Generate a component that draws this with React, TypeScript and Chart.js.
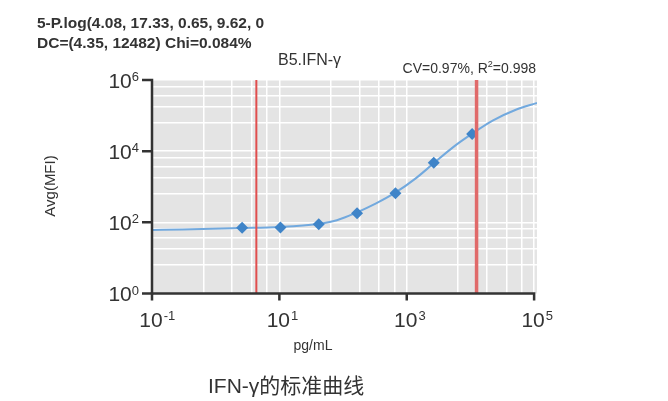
import React, { useEffect, useRef } from "react";
import { Chart, registerables } from "chart.js";
Chart.register(...registerables);

// ---- data ----
const standardConc = [2.6, 10.4, 41.5, 166, 664, 2656, 10625];
const standardMFI = [71, 72, 88, 180, 655, 4745, 30400];
const curveConc = [0.1, 0.3, 2.4, 10, 40, 80, 160, 330, 660, 1400, 2700, 5300, 10800, 22700, 52800, 111000];
const curveMFI = [61, 63, 69, 74, 90, 115, 185, 340, 680, 1750, 4700, 12800, 31500, 73000, 148000, 226000];
const dcLimits = [4.35, 12482];

const xMajorTicks = [0.1, 10, 1000, 100000];
const xTickExp = ["-1", "1", "3", "5"];
const yMajorTicks = [1, 100, 10000, 1000000];
const yTickExp = ["0", "2", "4", "6"];
const gridSteps = [6.4, 18, 37, 64, 100];
const xGridBases = [0.1, 10, 1000];
const yGridBases = [1, 100, 10000];

const header1 = "5-P.log(4.08, 17.33, 0.65, 9.62, 0";
const header2 = "DC=(4.35, 12482) Chi=0.084%";
const plotTitle = "B5.IFN-γ";
const fitTextA = "CV=0.97%, R";
const fitTextSup = "2";
const fitTextB = "=0.998";
const yTitle = "Avg(MFI)";
const xTitle = "pg/mL";
const caption = "IFN-γ的标准曲线";

const FONT = '"Liberation Sans", Arial, sans-serif';
const TEXT = "#333333";

const xGrid = xGridBases.flatMap((b) => gridSteps.map((s) => b * s));
const yGrid = yGridBases.flatMap((b) => gridSteps.map((s) => b * s));

const decor = {
  id: "decor",
  beforeDraw(chart: any) {
    const { ctx, chartArea: a } = chart;
    ctx.save();
    ctx.fillStyle = "#e4e4e4";
    ctx.fillRect(a.left, a.top - 1, a.right - a.left, a.bottom - a.top + 1);
    ctx.restore();
  },
  afterDraw(chart: any) {
    const { ctx } = chart;
    const xs = chart.scales.x;
    const ys = chart.scales.y;
    const x0 = xs.getPixelForValue(xMajorTicks[0]);
    const x1 = xs.getPixelForValue(xMajorTicks[xMajorTicks.length - 1]);
    const y0 = ys.getPixelForValue(yMajorTicks[0]);
    const y1 = ys.getPixelForValue(yMajorTicks[yMajorTicks.length - 1]);
    ctx.save();
    ctx.strokeStyle = "#333333";
    ctx.lineWidth = 2.5;
    ctx.lineJoin = "miter";
    // y axis
    ctx.beginPath();
    ctx.moveTo(x0 - 10, y0);
    ctx.lineTo(x0, y0);
    ctx.lineTo(x0, y1);
    ctx.lineTo(x0 - 10, y1);
    ctx.stroke();
    // x axis
    ctx.beginPath();
    ctx.moveTo(x0, y0 + 7);
    ctx.lineTo(x0, y0);
    ctx.lineTo(x1, y0);
    ctx.lineTo(x1, y0 + 7);
    ctx.stroke();
    // inner ticks
    ctx.beginPath();
    yMajorTicks.slice(1, -1).forEach((v) => {
      const y = ys.getPixelForValue(v);
      ctx.moveTo(x0 - 10, y);
      ctx.lineTo(x0, y);
    });
    xMajorTicks.slice(1, -1).forEach((v) => {
      const x = xs.getPixelForValue(v);
      ctx.moveTo(x, y0);
      ctx.lineTo(x, y0 + 7);
    });
    ctx.stroke();

    ctx.fillStyle = TEXT;
    // x tick labels
    xMajorTicks.forEach((v, i) => {
      const x = xs.getPixelForValue(v);
      ctx.font = `21px ${FONT}`;
      const w = ctx.measureText("10").width;
      ctx.textAlign = "left";
      ctx.textBaseline = "alphabetic";
      ctx.fillText("10", x - w / 2 - 1, y0 + 33);
      ctx.font = `13px ${FONT}`;
      ctx.fillText(xTickExp[i], x + w / 2, y0 + 26);
    });
    // y tick labels
    yMajorTicks.forEach((v, i) => {
      const y = ys.getPixelForValue(v);
      ctx.font = `13px ${FONT}`;
      ctx.textAlign = "right";
      ctx.textBaseline = "alphabetic";
      const right = x0 - 13;
      const ws = ctx.measureText(yTickExp[i]).width;
      ctx.fillText(yTickExp[i], right, y + 1);
      ctx.font = `21px ${FONT}`;
      ctx.fillText("10", right - ws, y + 7.5);
    });

    // header text
    ctx.textAlign = "left";
    ctx.font = `bold 15.5px ${FONT}`;
    ctx.fillText(header1, 37, 28);
    ctx.fillText(header2, 37, 48);

    // plot title
    ctx.font = `16px ${FONT}`;
    ctx.fillText(plotTitle, 278, 65);

    // fit text right aligned
    ctx.font = `14px ${FONT}`;
    const wa = ctx.measureText(fitTextA).width;
    const wb = ctx.measureText(fitTextB).width;
    ctx.font = `9px ${FONT}`;
    const wsup = ctx.measureText(fitTextSup).width;
    const rightEdge = 536;
    const startX = rightEdge - wa - wb - wsup;
    ctx.font = `14px ${FONT}`;
    ctx.fillText(fitTextA, startX, 73);
    ctx.font = `9px ${FONT}`;
    ctx.fillText(fitTextSup, startX + wa, 67);
    ctx.font = `14px ${FONT}`;
    ctx.fillText(fitTextB, startX + wa + wsup, 73);

    // axis titles
    ctx.font = `14px ${FONT}`;
    ctx.textAlign = "center";
    ctx.fillText(xTitle, 313, 349.5);
    ctx.save();
    ctx.translate(55, 186);
    ctx.rotate(-Math.PI / 2);
    ctx.font = `15px ${FONT}`;
    ctx.textAlign = "center";
    ctx.fillText(yTitle, 0, 0);
    ctx.restore();

    ctx.restore();
  },
};

export default function App() {
  const ref = useRef<HTMLCanvasElement | null>(null);
  useEffect(() => {
    if (!ref.current) return;
    const chart = new Chart(ref.current, {
      type: "scatter",
      data: {
        datasets: [
          {
            label: "DC low",
            data: [
              { x: dcLimits[0], y: yMajorTicks[0] },
              { x: dcLimits[0], y: yMajorTicks[yMajorTicks.length - 1] },
            ],
            showLine: true,
            borderColor: "#e04e4e",
            borderWidth: 2,
            pointRadius: 0,
            order: 0,
          },
          {
            label: "DC high",
            data: [
              { x: dcLimits[1], y: yMajorTicks[0] },
              { x: dcLimits[1], y: yMajorTicks[yMajorTicks.length - 1] },
            ],
            showLine: true,
            borderColor: "#e06a6a",
            borderWidth: 3.5,
            pointRadius: 0,
            order: 0,
          },
          {
            label: "Standards",
            data: standardConc.map((x, i) => ({ x, y: standardMFI[i] })),
            pointStyle: "rectRot",
            pointRadius: 6,
            backgroundColor: "#3f84c8",
            borderColor: "#3f84c8",
            borderWidth: 0,
            showLine: false,
            order: 1,
          },
          {
            label: "Fit",
            data: curveConc.map((x, i) => ({ x, y: curveMFI[i] })),
            showLine: true,
            borderColor: "#72a9de",
            borderWidth: 2,
            pointRadius: 0,
            cubicInterpolationMode: "monotone",
            order: 2,
          },
        ],
      },
      options: {
        animation: false,
        responsive: false,
        devicePixelRatio: 1,
        layout: { padding: { left: 152, right: 131, top: 80, bottom: 107.5 } },
        plugins: { legend: { display: false }, tooltip: { enabled: false }, title: { display: false } },
        scales: {
          x: {
            type: "logarithmic",
            min: 0.1,
            max: 111000,
            afterBuildTicks: (scale: any) => {
              scale.ticks = xGrid.map((v) => ({ value: v }));
            },
            ticks: { display: false },
            grid: { color: "#ffffff", lineWidth: 1.5, drawTicks: false },
            border: { display: false },
          },
          y: {
            type: "logarithmic",
            min: 1,
            max: 1000000,
            afterBuildTicks: (scale: any) => {
              scale.ticks = yGrid.map((v) => ({ value: v }));
            },
            ticks: { display: false },
            grid: { color: "#ffffff", lineWidth: 1.5, drawTicks: false },
            border: { display: false },
          },
        },
      },
      plugins: [decor],
    } as any);
    return () => chart.destroy();
  }, []);

  return (
    <div style={{ position: "absolute", left: 0, top: 0, width: 668, height: 401, background: "#ffffff" }}>
      <canvas ref={ref} width={668} height={401} style={{ position: "absolute", left: 0, top: 0, width: 668, height: 401 }} />
      <div
        style={{
          position: "absolute",
          left: 208,
          top: 374,
          font: `21px "Liberation Sans", "Noto Sans CJK SC", sans-serif`,
          lineHeight: "24px",
          color: TEXT,
          whiteSpace: "nowrap",
        }}
      >
        {caption}
      </div>
    </div>
  );
}
